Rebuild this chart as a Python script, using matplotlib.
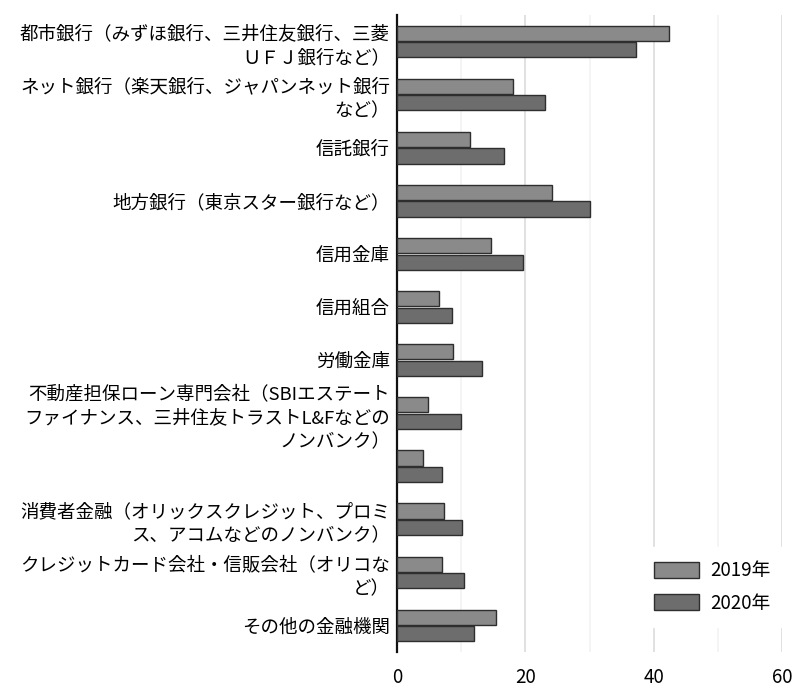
import matplotlib
matplotlib.use("Agg")
import matplotlib.pyplot as plt
import numpy as np

plt.rcParams['font.family'] = ['Noto Sans CJK JP', 'DejaVu Sans']

categories = [
    "都市銀行（みずほ銀行、三井住友銀行、三菱\nＵＦＪ銀行など）",
    "ネット銀行（楽天銀行、ジャパンネット銀行\nなど）",
    "信託銀行",
    "地方銀行（東京スター銀行など）",
    "信用金庫",
    "信用組合",
    "労働金庫",
    "不動産担保ローン専門会社（SBIエステート\nファイナンス、三井住友トラストL&Fなどの\nノンバンク）",
    "",
    "消費者金融（オリックスクレジット、プロミ\nス、アコムなどのノンバンク）",
    "クレジットカード会社・信販会社（オリコな\nど）",
    "その他の金融機関",
]
values_2019 = [42.4, 18.0, 11.4, 24.2, 14.7, 6.6, 8.8, 4.8, 4.1, 7.4, 7.0, 15.4]
values_2020 = [37.3, 23.1, 16.6, 30.0, 19.7, 8.6, 13.3, 10.0, 7.0, 10.1, 10.5, 12.0]
series_labels = ["2019年", "2020年"]
x_ticks = [0, 20, 40, 60]

fig = plt.figure(figsize=(8, 6.93), dpi=100)
ax = fig.add_axes([397/800, 1 - 652/693, (782-397)/800, (652-15)/693])

n = len(categories)
y = np.arange(n)
h = 0.285
off = 0.155
c2019 = "#8a8a8a"
c2020 = "#6d6d6d"
ax.barh(y - off, values_2019, height=h, color=c2019, edgecolor="#2e2e2e", linewidth=1.0, label=series_labels[0], zorder=3)
ax.barh(y + off, values_2020, height=h, color=c2020, edgecolor="#2e2e2e", linewidth=1.0, label=series_labels[1], zorder=3)

ax.set_ylim(n - 0.5, -0.5)
ax.set_xlim(0, 60)
ax.set_xticks(x_ticks)
ax.set_xticklabels([str(t) for t in x_ticks], fontsize=13.5)
ax.set_xticks([10, 30, 50], minor=True)
ax.grid(axis='x', which='major', color='#dcdcdc', linewidth=1.2, zorder=0)
ax.grid(axis='x', which='minor', color='#f2f2f2', linewidth=1.2, zorder=0)
ax.tick_params(axis='x', which='both', length=0, pad=11)
ax.set_yticks(y)
ax.set_yticklabels(categories, fontsize=13.3, linespacing=1.42)
ax.tick_params(axis='y', length=0, pad=5)
for s in ['top', 'right', 'bottom']:
    ax.spines[s].set_visible(False)
ax.spines['left'].set_color('#111111')
ax.spines['left'].set_linewidth(1.6)

leg = ax.legend(loc='lower right', bbox_to_anchor=(1.03, 0.025), fontsize=13.5,
                frameon=True, fancybox=False, edgecolor='white', facecolor='white',
                framealpha=1, handlelength=2.4, handleheight=0.9, handletextpad=0.6,
                labelspacing=0.6, borderpad=0.7)

fig.savefig("out.png", dpi=100)
